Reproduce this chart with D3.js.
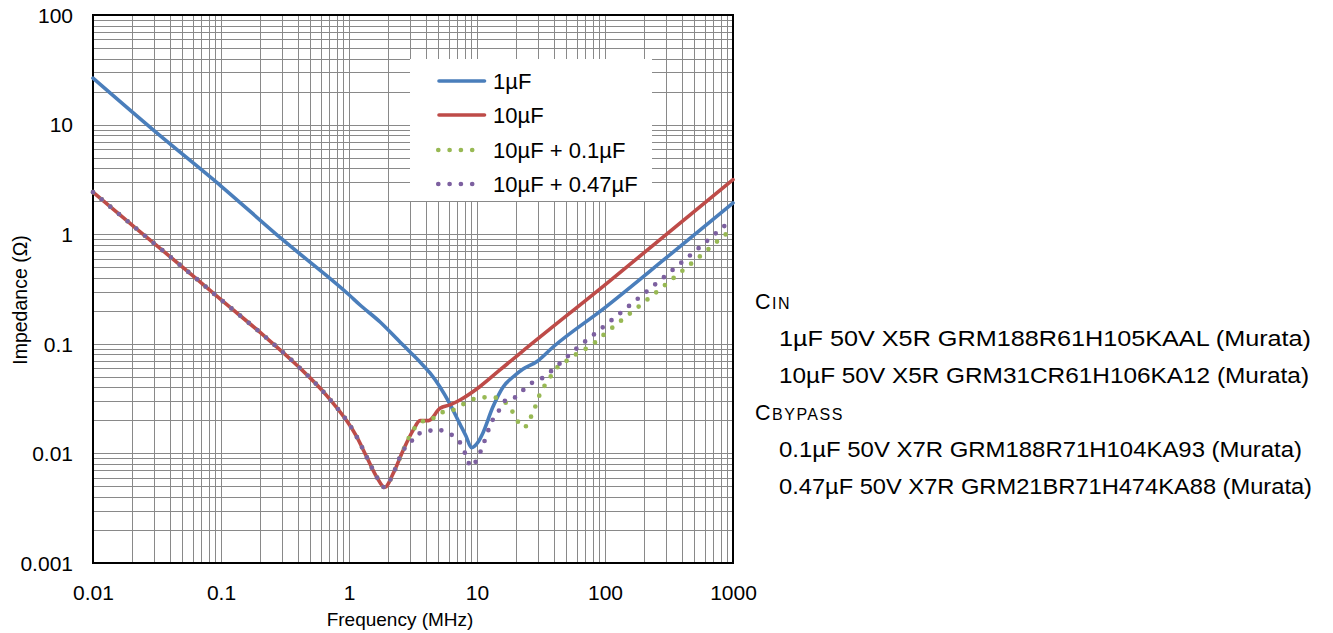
<!DOCTYPE html>
<html>
<head>
<meta charset="utf-8">
<script src="https://cdn.jsdelivr.net/npm/d3@7"></script>
<style>
  body { margin: 0; background: #fff; }
  text { font-family: "Liberation Sans", Arial, sans-serif; fill: #000; }
</style>
</head>
<body>
<script>
// impedance vs frequency
let freq1uF = [0.01, 0.03, 0.1, 0.3, 1, 1.22, 1.75, 2.5, 3.0, 3.59, 4.29, 5.14, 6.15, 7.36, 8.2, 9.06, 10.2, 11.1, 13.3, 16, 19.1, 22.9, 29.4, 39.3, 100, 300, 1000];
let imp1uF = [26.5, 8.8, 2.75, 0.9, 0.28, 0.226, 0.158, 0.104, 0.0842, 0.0682, 0.0542, 0.0404, 0.0282, 0.0185, 0.0144, 0.0113, 0.0127, 0.0153, 0.0265, 0.0404, 0.0498, 0.0589, 0.069, 0.0935, 0.214, 0.607, 1.93];

let freq10uF = [0.01, 0.0219, 0.0573, 0.101, 0.214, 0.39, 0.667, 1.148, 1.374, 1.646, 1.9, 2.22, 2.65, 3.18, 3.59, 4.17, 5.14, 6.15, 7.36, 10.5, 15.1, 21.7, 100, 1000];
let imp10uF = [2.42, 1.12, 0.439, 0.25, 0.12, 0.0641, 0.0338, 0.0142, 0.0093, 0.0061, 0.0049, 0.0066, 0.0107, 0.0164, 0.0199, 0.0199, 0.0258, 0.0277, 0.0307, 0.0406, 0.0577, 0.0819, 0.345, 3.15];

let freq10uF01 = [0.01, 0.0219, 0.0573, 0.101, 0.214, 0.39, 0.667, 1.148, 1.374, 1.646, 1.9, 2.22, 2.65, 3.18, 3.7, 4.37, 5.08, 6.15, 7.36, 8.81, 10.7, 13.0, 15.8, 18.1, 20.2, 22.1, 25.0, 26.7, 28.9, 31.0, 34.3, 38.3, 43.2, 50.2, 59.3, 71.1, 84.6, 97, 133, 212, 338, 540, 851, 1000];
let imp10uF01 = [2.42, 1.12, 0.439, 0.25, 0.12, 0.0641, 0.0338, 0.0142, 0.0093, 0.0061, 0.0049, 0.0066, 0.0107, 0.0164, 0.0195, 0.0202, 0.0235, 0.0242, 0.0271, 0.0303, 0.0325, 0.0325, 0.0307, 0.0259, 0.0213, 0.0174, 0.018, 0.0224, 0.0277, 0.0348, 0.0427, 0.0519, 0.0624, 0.07, 0.08, 0.0905, 0.104, 0.12, 0.162, 0.251, 0.393, 0.615, 0.969, 1.13];

let freq10uF047 = [0.01, 0.0219, 0.0573, 0.101, 0.214, 0.39, 0.667, 1.148, 1.374, 1.646, 1.9, 2.22, 2.65, 3.0, 3.34, 3.96, 4.78, 5.73, 6.82, 7.68, 8.28, 8.98, 10.05, 10.9, 11.7, 12.5, 13.6, 15.3, 17.2, 20.4, 23.4, 27.4, 32.8, 38.3, 44.5, 60.1, 82.1, 131, 209, 332, 526, 832, 1000];
let imp10uF047 = [2.42, 1.12, 0.439, 0.25, 0.12, 0.0641, 0.0338, 0.0142, 0.0093, 0.0061, 0.0049, 0.0066, 0.0107, 0.0122, 0.015, 0.0155, 0.0167, 0.0155, 0.0139, 0.01156, 0.00927, 0.00756, 0.00895, 0.0111, 0.0139, 0.0173, 0.0214, 0.0258, 0.0317, 0.0327, 0.0387, 0.0447, 0.0491, 0.0568, 0.0664, 0.091, 0.122, 0.19, 0.297, 0.465, 0.728, 1.156, 1.38];

let seriesNames = ["1µF", "10µF", "10µF + 0.1µF", "10µF + 0.47µF"];
let xTicks = [0.01, 0.1, 1, 10, 100, 1000];
let xTickLabels = ["0.01", "0.1", "1", "10", "100", "1000"];
let yTicks = [0.001, 0.01, 0.1, 1, 10, 100];
let yTickLabels = ["0.001", "0.01", "0.1", "1", "10", "100"];
let notes = [
  { head: "C", small: "IN" },
  { line: "1µF 50V X5R GRM188R61H105KAAL (Murata)", width: 532 },
  { line: "10µF 50V X5R GRM31CR61H106KA12 (Murata)", width: 530 },
  { head: "C", small: "BYPASS" },
  { line: "0.1µF 50V X7R GRM188R71H104KA93 (Murata)", width: 523 },
  { line: "0.47µF 50V X7R GRM21BR71H474KA88 (Murata)", width: 533 }
];

let svgWidth = 1333;
let svgHeight = 633;
let plot = { left: 93, right: 733, top: 15, bottom: 563 };

let svg = d3.select("body")
  .append("svg")
  .attr("width", svgWidth)
  .attr("height", svgHeight);

let xScale = d3.scaleLog().domain([0.01, 1000]).range([plot.left, plot.right]);
let yScale = d3.scaleLog().domain([0.001, 100]).range([plot.bottom, plot.top]);

// gridlines, major and minor look the same
let gridVals = (lo, hi) => {
  let out = [];
  for (let d = lo; d < hi * 0.999; d *= 10) {
    for (let k = 1; k <= 9; k++) out.push(d * k);
  }
  out.push(hi);
  return out;
};

let grid = svg.append("g").attr("stroke", "#898989").attr("stroke-width", 1);
gridVals(0.01, 1000).forEach(v => {
  let px = Math.round(xScale(v)) + 0.5;
  grid.append("line").attr("x1", px).attr("x2", px).attr("y1", plot.top).attr("y2", plot.bottom);
});
gridVals(0.001, 100).forEach(v => {
  let py = Math.round(yScale(v)) + 0.5;
  grid.append("line").attr("x1", plot.left).attr("x2", plot.right).attr("y1", py).attr("y2", py);
});

// legend box sits under the curves
let legendBox = { x: 410, y: 59, w: 242, h: 142 };
svg.append("rect")
  .attr("x", legendBox.x).attr("y", legendBox.y)
  .attr("width", legendBox.w).attr("height", legendBox.h)
  .attr("fill", "#fff");

// plot frame
svg.append("rect")
  .attr("x", plot.left).attr("y", plot.top)
  .attr("width", plot.right - plot.left).attr("height", plot.bottom - plot.top)
  .attr("fill", "none").attr("stroke", "#000").attr("stroke-width", 2);

// axes, ticks hidden
let xAxis = d3.axisBottom(xScale).tickValues(xTicks).tickSize(0).tickFormat((d, i) => xTickLabels[i]);
let yAxis = d3.axisLeft(yScale).tickValues(yTicks).tickSize(0).tickFormat((d, i) => yTickLabels[i]);

let gx = svg.append("g").attr("transform", `translate(0, ${plot.bottom})`).call(xAxis);
gx.select(".domain").remove();
gx.selectAll("text").attr("font-size", 21).attr("dy", null).attr("y", 37)
  .style("font-family", "'Liberation Sans', Arial, sans-serif").attr("fill", "#000");

let gy = svg.append("g").attr("transform", `translate(${plot.left - 20}, 0)`).call(yAxis);
gy.select(".domain").remove();
gy.selectAll("text").attr("font-size", 21).attr("x", 0).attr("dy", "0.35em")
  .style("font-family", "'Liberation Sans', Arial, sans-serif").attr("fill", "#000");

// axis titles
svg.append("text")
  .attr("x", 400).attr("y", 626)
  .attr("text-anchor", "middle").attr("font-size", 19)
  .text("Frequency (MHz)");

svg.append("text")
  .attr("transform", "translate(27, 300) rotate(-90)")
  .attr("text-anchor", "middle").attr("font-size", 19.5)
  .text("Impedance (Ω)");

// series
let seriesData = [
  { f: freq1uF, z: imp1uF, color: "#4A7EBB", dotted: false },
  { f: freq10uF, z: imp10uF, color: "#BE4B48", dotted: false },
  { f: freq10uF01, z: imp10uF01, color: "#98B954", dotted: true },
  { f: freq10uF047, z: imp10uF047, color: "#7D60A0", dotted: true }
];

let line = d3.line()
  .x(d => xScale(d[0]))
  .y(d => yScale(d[1]))
  .curve(d3.curveMonotoneX);

let styleLine = (sel, s) => {
  sel.attr("fill", "none").attr("stroke", s.color);
  if (s.dotted) {
    sel.attr("stroke-width", 4.7).attr("stroke-dasharray", "0 11.3").attr("stroke-linecap", "round");
  } else {
    sel.attr("stroke-width", 3.6).attr("stroke-linejoin", "round").attr("stroke-linecap", "round");
  }
};

seriesData.forEach(s => {
  let pts = s.f.map((f, i) => [f, s.z[i]]);
  svg.append("path").attr("d", line(pts)).call(styleLine, s);
});

// legend entries
let legendRows = [81, 115, 150, 184];
seriesData.forEach((s, i) => {
  let y = legendRows[i];
  svg.append("line")
    .attr("x1", s.dotted ? 438.3 : 439).attr("x2", s.dotted ? 483 : 484.5)
    .attr("y1", y).attr("y2", y)
    .call(styleLine, s);
  svg.append("text")
    .attr("x", 493).attr("y", y + 8)
    .attr("font-size", 22)
    .text(seriesNames[i]);
});

// component notes on the right
let noteY = [309, 346, 383, 420, 457, 494];
notes.forEach((n, i) => {
  let t = svg.append("text")
    .attr("y", noteY[i])
    .attr("font-size", 21.5);
  if (n.head) {
    t.attr("x", 755).attr("letter-spacing", 1.5);
    t.append("tspan").text(n.head);
    t.append("tspan").attr("font-size", 16).text(n.small);
  } else {
    t.attr("x", 779)
      .attr("textLength", n.width)
      .attr("lengthAdjust", "spacingAndGlyphs")
      .text(n.line);
  }
});
</script>
</body>
</html>
